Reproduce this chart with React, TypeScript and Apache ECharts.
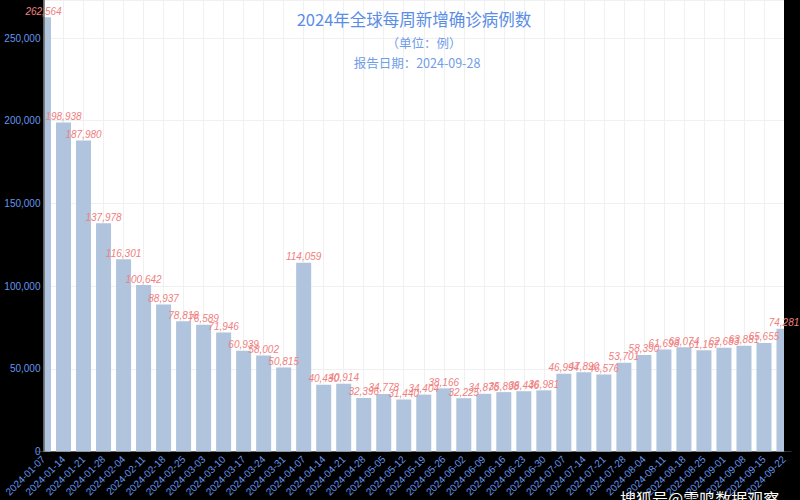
import React, { useEffect, useRef } from "react";
import * as echarts from "echarts";

const weeks = [
  "2024-01-07", "2024-01-14", "2024-01-21", "2024-01-28",
  "2024-02-04", "2024-02-11", "2024-02-18", "2024-02-25",
  "2024-03-03", "2024-03-10", "2024-03-17", "2024-03-24", "2024-03-31",
  "2024-04-07", "2024-04-14", "2024-04-21", "2024-04-28",
  "2024-05-05", "2024-05-12", "2024-05-19", "2024-05-26",
  "2024-06-02", "2024-06-09", "2024-06-16", "2024-06-23", "2024-06-30",
  "2024-07-07", "2024-07-14", "2024-07-21", "2024-07-28",
  "2024-08-04", "2024-08-11", "2024-08-18", "2024-08-25",
  "2024-09-01", "2024-09-08", "2024-09-15", "2024-09-22",
];

const cases = [
  262564, 198938, 187980, 137978, 116301, 100642, 88937, 78818, 76589, 71946,
  60939, 58002, 50815, 114059, 40430, 40914, 32396, 34778, 31440, 34404,
  38166, 32225, 34876, 35898, 36446, 36981, 46994, 47890, 46576, 53701,
  58390, 61698, 63074, 61167, 62683, 63881, 65655, 74281,
];

const titleText = "2024年全球每周新增确诊病例数";
const unitText = "（单位：例）";
const dateText = "报告日期：2024-09-28";
const watermarkText = "搜狐号@雷鸣数据观察";

const fmt = (v: number) => Number(v).toLocaleString("en-US");

const GRID_LEFT = 43.5;
const GRID_RIGHT = 16;
const GRID_BOTTOM = 48.5;

export default function App() {
  const ref = useRef<HTMLDivElement>(null);
  useEffect(() => {
    const chart = echarts.init(ref.current!, null, { renderer: "svg" });
    const yBase = { type: "value", min: 0, max: 273000, interval: 50000 };
    chart.setOption({
      animation: false,
      backgroundColor: "#000",
      title: [
        {
          text: titleText,
          left: 414,
          top: 11,
          padding: 0,
          textAlign: "center",
          textStyle: { color: "#5a8de6", fontSize: 16.5, fontWeight: "normal", fontFamily: "Noto Sans CJK SC" },
        },
        {
          text: unitText,
          left: 424,
          top: 36.5,
          padding: 0,
          textAlign: "center",
          textStyle: { color: "#6f9de8", fontSize: 12.5, fontWeight: "normal", fontFamily: "Noto Sans CJK SC" },
        },
        {
          text: dateText,
          left: 417,
          top: 56.5,
          padding: 0,
          textAlign: "center",
          textStyle: { color: "#6f9de8", fontSize: 12.5, fontWeight: "normal", fontFamily: "Noto Sans CJK SC" },
        },
      ],
      grid: {
        left: GRID_LEFT,
        right: GRID_RIGHT,
        top: 0,
        bottom: GRID_BOTTOM,
        show: true,
        backgroundColor: "#fff",
        borderWidth: 0,
      },
      xAxis: {
        type: "category",
        data: weeks,
        boundaryGap: false,
        axisLine: { show: true, lineStyle: { color: "#666" } },
        axisTick: { show: false },
        axisLabel: {
          rotate: 45,
          interval: 0,
          color: "#6495ED",
          fontSize: 10,
          margin: 6,
          fontFamily: "Liberation Sans",
        },
        splitLine: { show: true, lineStyle: { color: "#f0f0f0" } },
      },
      yAxis: [
        {
          ...yBase,
          axisLine: { show: false },
          axisTick: { show: false },
          axisLabel: { show: false },
          splitLine: { show: true, lineStyle: { color: "#f0f0f0" } },
        },
        {
          ...yBase,
          position: "left",
          z: 10,
          axisLine: { show: true, lineStyle: { color: "#666", width: 1.5 } },
          axisTick: { show: false },
          splitLine: { show: false },
          axisLabel: {
            color: "#6495ED",
            fontSize: 10,
            margin: 3,
            showMaxLabel: false,
            fontFamily: "Liberation Sans",
            formatter: (v: number) => fmt(v),
          },
        },
      ],
      series: [
        {
          type: "bar",
          data: cases,
          barWidth: 15,
          barGap: "-100%",
          yAxisIndex: 0,
          z: 2,
          itemStyle: { color: "#b0c4de" },
        },
        {
          type: "bar",
          data: cases,
          barWidth: 15,
          barGap: "-100%",
          yAxisIndex: 0,
          z: 10,
          silent: true,
          itemStyle: { color: "rgba(0,0,0,0)" },
          label: {
            show: true,
            position: "top",
            distance: 1,
            color: "#f08080",
            fontSize: 10,
            fontStyle: "italic",
            fontFamily: "Liberation Sans",
            formatter: (p: any) => fmt(p.value),
          },
        },
      ],
      graphic: [
        {
          type: "rect",
          z: 5,
          left: 0,
          top: 0,
          shape: { width: GRID_LEFT, height: 500 - GRID_BOTTOM },
          style: { fill: "#000" },
        },
        {
          type: "rect",
          z: 5,
          right: 0,
          top: 0,
          shape: { width: GRID_RIGHT, height: 500 - GRID_BOTTOM },
          style: { fill: "#000" },
        },
        {
          type: "text",
          z: 6,
          left: 620,
          top: 490,
          style: {
            text: watermarkText,
            fill: "#fff",
            font: "16px 'Noto Sans CJK SC'",
          },
        },
      ],
    });
    return () => chart.dispose();
  }, []);
  return (
    <div
      ref={ref}
      style={{ position: "fixed", left: 0, top: 0, width: 800, height: 500 }}
    />
  );
}
